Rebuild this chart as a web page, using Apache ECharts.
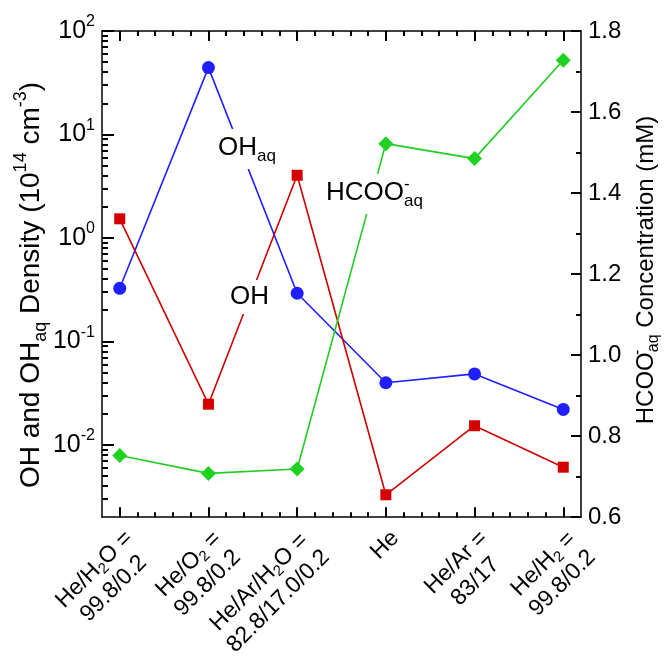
<!DOCTYPE html>
<html>
<head>
<meta charset="utf-8">
<script src="https://cdn.jsdelivr.net/npm/echarts@6/dist/echarts.min.js"></script>
<style>
  html, body { margin: 0; padding: 0; background: #fff; }
  #chart { width: 665px; height: 659px; }
</style>
</head>
<body>
<div id="chart"></div>
<script>
// data
const xPositions = [0, 1, 2, 3, 4, 5];
const categories = [
  '{n|He/H}{s|2}{n|O =}\n{n|99.8/0.2}',
  '{n|He/O}{s|2}{n| =}\n{n|99.8/0.2}',
  '{n|He/Ar/H}{s|2}{n|O =}\n{n|82.8/17.0/0.2}',
  '{n|He}',
  '{n|He/Ar =}\n{n|83/17}',
  '{n|He/H}{s|2}{n| =}\n{n|99.8/0.2}'
];
const ohAq = [0.326, 44.3, 0.292, 0.0398, 0.0485, 0.022];   // 10^14 cm^-3
const oh = [1.53, 0.0247, 4.03, 0.00329, 0.0153, 0.00608];   // 10^14 cm^-3
const hcoo = [0.752, 0.708, 0.719, 1.522, 1.485, 1.728];      // mM
const logTicks = [0.01, 0.1, 1, 10, 100];

const FONT = '"Liberation Sans", Arial, sans-serif';
const INK = '#000';

// minor ticks (inside the frame only)
const xMinor = [];
for (let i = 1; i <= 26; i++) {
  const v = Math.round((-0.2 + i * 0.2) * 10) / 10;
  if (Math.abs(v - Math.round(v)) > 0.01) xMinor.push(v);
}
const logMinor = [];
for (let e = -3; e <= 1; e++) {
  for (let m = 2; m <= 9; m++) {
    const v = +(m * Math.pow(10, e)).toPrecision(3);
    if (v > 0.002 && v < 100) logMinor.push(v);
  }
}

const chart = echarts.init(document.getElementById('chart'));

const line = (show) => ({ show, onZero: false, lineStyle: { color: INK, width: 1.5 } });
const ticks = (length, values) => {
  const t = { show: true, inside: true, length, lineStyle: { color: INK, width: 2 } };
  if (values) t.customValues = values;
  return t;
};

// rich text sets: main size, sub/sup size
const rich = (size, sub, lh) => ({
  n: { fontSize: size, fontFamily: FONT, color: INK, lineHeight: lh },
  s: { fontSize: sub, fontFamily: FONT, color: INK, lineHeight: sub, verticalAlign: 'bottom' },
  p: { fontSize: sub, fontFamily: FONT, color: INK, lineHeight: sub, verticalAlign: 'top' },
  pz: { fontSize: sub, fontFamily: FONT, color: INK, lineHeight: sub, verticalAlign: 'top', width: 0 }
});
const noteRich = rich(26, 17, 34);

const xAxisAt = (position, major, showLabel) => ({
  type: 'value', min: -0.2, max: 5.2, position,
  splitLine: { show: false },
  axisLine: line(major),
  axisTick: major ? ticks(10, xPositions) : ticks(5, xMinor),
  axisLabel: showLabel ? {
    customValues: xPositions, rotate: 45, margin: 8, align: 'right', verticalAlign: 'top',
    formatter: (v) => categories[Math.round(v)] || '',
    rich: {
      n: { fontSize: 23, fontFamily: FONT, color: INK, lineHeight: 27, align: 'center' },
      s: { fontSize: 15, fontFamily: FONT, color: INK, lineHeight: 14, align: 'center', verticalAlign: 'bottom' }
    }
  } : { show: false }
});

chart.setOption({
  animation: false,
  grid: { left: 102, top: 31, right: 84, bottom: 137 },
  xAxis: [
    xAxisAt('bottom', true, true),
    xAxisAt('bottom', false, false),
    xAxisAt('top', true, false),
    xAxisAt('top', false, false)
  ],
  yAxis: [
    {
      type: 'log', logBase: 10, min: 0.002, max: 100, position: 'left',
      splitLine: { show: false }, axisLine: line(true),
      axisTick: ticks(12, logTicks),
      axisLabel: {
        customValues: logTicks, margin: 7,
        formatter: (v) => '{b|10}{e|' + Math.round(Math.log10(v)) + '}',
        rich: {
          b: { fontSize: 25, fontFamily: FONT, color: INK, lineHeight: 34 },
          e: { fontSize: 16, fontFamily: FONT, color: INK, lineHeight: 16, verticalAlign: 'top' }
        }
      }
    },
    {
      type: 'log', logBase: 10, min: 0.002, max: 100, position: 'left',
      splitLine: { show: false }, axisLine: line(false), axisLabel: { show: false },
      axisTick: ticks(6, logMinor)
    },
    {
      type: 'value', min: 0.6, max: 1.8, interval: 0.2, position: 'right',
      splitLine: { show: false }, axisLine: line(true),
      axisTick: ticks(10),
      minorTick: { show: true, splitNumber: 2, length: 5, lineStyle: { color: INK, width: 2 } },
      axisLabel: {
        margin: 7, fontSize: 24, fontFamily: FONT, color: INK,
        formatter: (v) => v.toFixed(1)
      }
    }
  ],
  series: [
    {
      name: 'OHaq', type: 'line', xAxisIndex: 0, yAxisIndex: 0,
      data: xPositions.map((x, i) => [x, ohAq[i]]),
      symbol: 'circle', symbolSize: 13,
      lineStyle: { color: '#1f1fff', width: 1.6 }, itemStyle: { color: '#1f1fff' }
    },
    {
      name: 'OH', type: 'line', xAxisIndex: 0, yAxisIndex: 0,
      data: xPositions.map((x, i) => [x, oh[i]]),
      symbol: 'rect', symbolSize: 11,
      lineStyle: { color: '#cc0000', width: 1.6 }, itemStyle: { color: '#d40000' }
    },
    {
      name: 'HCOO', type: 'line', xAxisIndex: 0, yAxisIndex: 2,
      data: xPositions.map((x, i) => [x, hcoo[i]]),
      symbol: 'diamond', symbolSize: 15,
      lineStyle: { color: '#22cc22', width: 1.6 }, itemStyle: { color: '#1fd21f' }
    }
  ],
  graphic: [
    {
      type: 'text', x: 31, y: 285, rotation: Math.PI / 2, z: 100,
      style: {
        text: '{n|OH and OH}{s|aq}{n| Density (10}{p|14}{n| cm}{p|-3}{n|)}',
        rich: rich(28, 18, 38), align: 'center', verticalAlign: 'middle'
      }
    },
    {
      type: 'text', x: 646, y: 270, rotation: Math.PI / 2, z: 100,
      style: {
        text: '{n|HCOO}{pz|-}{s|aq}{n| Concentration (mM)}',
        rich: rich(24, 16, 32), align: 'center', verticalAlign: 'middle'
      }
    },
    {
      type: 'text', x: 215, y: 129, z: 100,
      style: {
        text: '{n|OH}{s|aq}', rich: noteRich,
        backgroundColor: '#fff', padding: [2, 3, 4, 3]
      }
    },
    {
      type: 'text', x: 226, y: 280, z: 100,
      style: {
        text: '{n|OH}', rich: noteRich,
        backgroundColor: '#fff', padding: [0, 4, 0, 4]
      }
    },
    {
      type: 'text', x: 322, y: 174, z: 100,
      style: {
        text: '{n|HCOO}{pz|-}{s|aq}', rich: noteRich,
        backgroundColor: '#fff', padding: [2, 4, 4, 4]
      }
    }
  ]
});
</script>
</body>
</html>
